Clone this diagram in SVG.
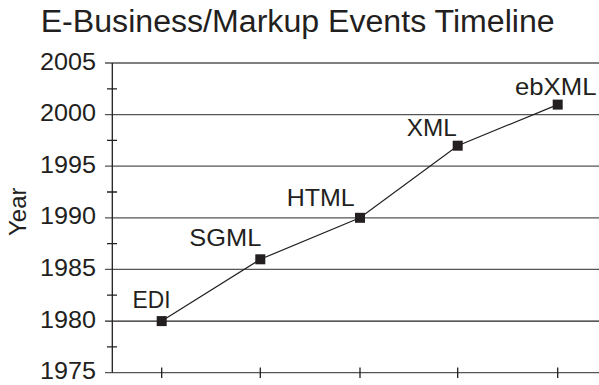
<svg xmlns="http://www.w3.org/2000/svg" width="599" height="385" viewBox="0 0 599 385">
<style>
text{font-family:"Liberation Sans",Arial,sans-serif;fill:#231f20}
.t{font-size:24px;text-anchor:end}
.l{font-size:24px}
.grid{stroke:#555;stroke-width:1.3;fill:none}
.ax{stroke:#231f20;stroke-width:1.3;fill:none}
.ser{stroke:#231f20;stroke-width:1.2;fill:none}
.pt{fill:#231f20}
</style>
<rect width="599" height="385" fill="#fff"/>
<text x="40.7" y="31.7" style="font-size:31px" textLength="514" lengthAdjust="spacingAndGlyphs">E-Business/Markup Events Timeline</text>
<g id="grid">
<path class="grid" d="M105 63H599M105 114.6H599M105 166.2H599M105 217.8H599M105 269.4H599M105 372.7H599"/>
<path class="ax" d="M105 321.1H599"/>
<path class="ax" d="M112.3 63V372.7M107 88.8H117M107 140.4H117M107 192H117M107 243.6H117M107 295.2H117M107 346.9H117M161.7 367.5V378M260.3 367.5V378M360 367.5V378M457.7 367.5V378M557.7 367.5V378"/>
</g>
<g id="axis-labels">
<text class="t" x="96" y="69.5" textLength="56" lengthAdjust="spacingAndGlyphs">2005</text>
<text class="t" x="96" y="121.1" textLength="56" lengthAdjust="spacingAndGlyphs">2000</text>
<text class="t" x="96" y="172.7" textLength="56" lengthAdjust="spacingAndGlyphs">1995</text>
<text class="t" x="96" y="224.3" textLength="56" lengthAdjust="spacingAndGlyphs">1990</text>
<text class="t" x="96" y="275.9" textLength="56" lengthAdjust="spacingAndGlyphs">1985</text>
<text class="t" x="96" y="327.6" textLength="56" lengthAdjust="spacingAndGlyphs">1980</text>
<text class="t" x="96" y="379.2" textLength="56" lengthAdjust="spacingAndGlyphs">1975</text>
<text class="l" transform="translate(26,211.7) rotate(-90)" text-anchor="middle">Year</text>
</g>
<g id="connectors">
<polyline class="ser" points="161.7,321.1 260.3,259.3 360,217.8 457.7,145.7 557.7,104.6"/>
</g>
<g id="EDI"><rect class="pt" x="156.7" y="316.1" width="10" height="10"/><text class="l" x="132.5" y="307.7" textLength="38" lengthAdjust="spacingAndGlyphs">EDI</text></g>
<g id="SGML"><rect class="pt" x="255.3" y="254.3" width="10" height="10"/><text class="l" x="189.3" y="246" textLength="72" lengthAdjust="spacingAndGlyphs">SGML</text></g>
<g id="HTML"><rect class="pt" x="355" y="212.8" width="10" height="10"/><text class="l" x="286.7" y="206" textLength="68" lengthAdjust="spacingAndGlyphs">HTML</text></g>
<g id="XML"><rect class="pt" x="452.7" y="140.7" width="10" height="10"/><text class="l" x="406.7" y="136" textLength="50" lengthAdjust="spacingAndGlyphs">XML</text></g>
<g id="ebXML"><rect class="pt" x="552.7" y="99.6" width="10" height="10"/><text class="l" x="515" y="95" textLength="81.5" lengthAdjust="spacingAndGlyphs">ebXML</text></g>
</svg>
